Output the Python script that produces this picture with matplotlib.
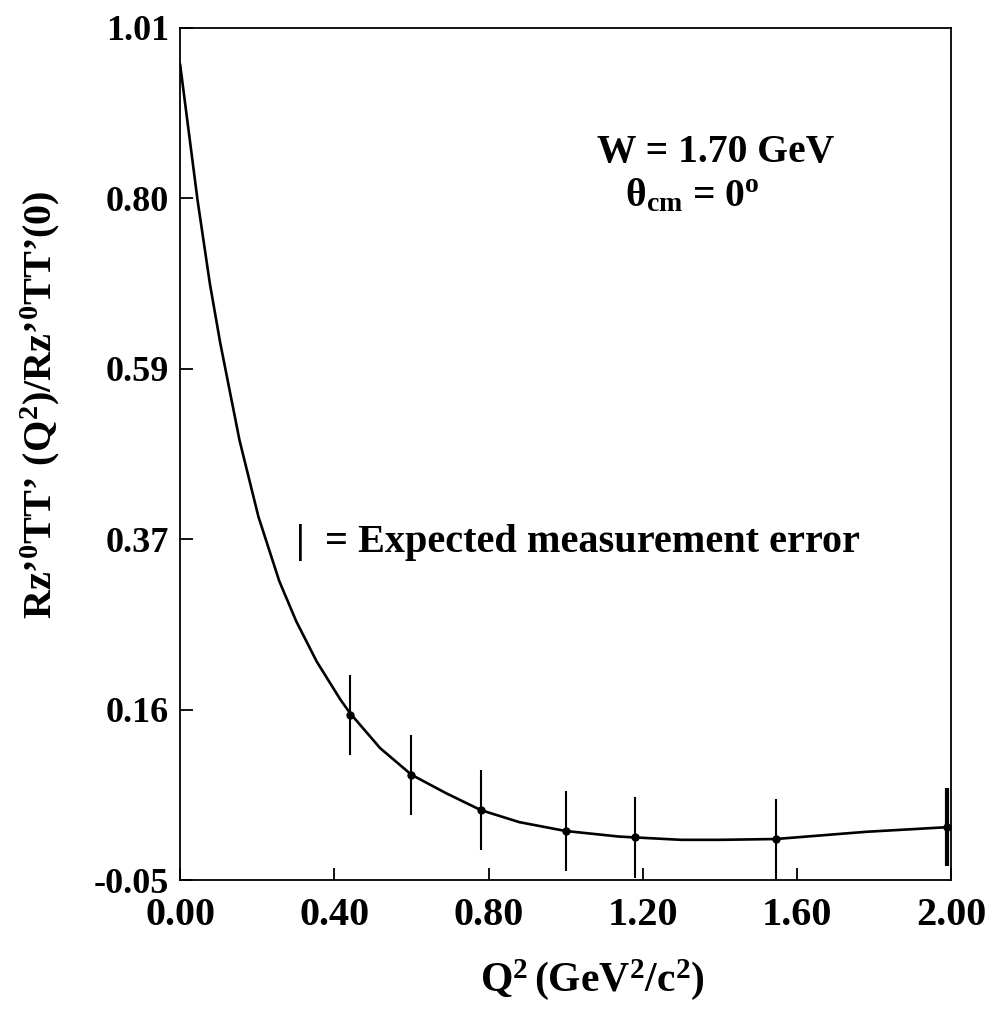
import numpy as np
import matplotlib
matplotlib.use("Agg")
from matplotlib import pyplot as plt

# curve
curve_q2 = [0.0, 0.045, 0.077, 0.104, 0.154, 0.203, 0.257, 0.301, 0.354, 0.415,
            0.44, 0.519, 0.60, 0.69, 0.78, 0.88, 1.00, 1.14, 1.18, 1.30, 1.40,
            1.545, 1.78, 2.0]
curve_r = [0.964, 0.796, 0.692, 0.618, 0.497, 0.402, 0.322, 0.272, 0.222, 0.175,
           0.158, 0.114, 0.081, 0.058, 0.037, 0.022, 0.011, 0.004, 0.003, 0.0,
           0.0, 0.001, 0.010, 0.016]

# expected measurement points
pts_q2 = [0.44, 0.60, 0.78, 1.00, 1.18, 1.545, 1.99]
pts_r = [0.155, 0.081, 0.037, 0.011, 0.003, 0.001, 0.016]
pts_err = [0.05, 0.05, 0.05, 0.05, 0.05, 0.05, 0.048]

yticks = [-0.05, 0.162, 0.374, 0.586, 0.798, 1.01]
ytick_labels = ["-0.05", "0.16", "0.37", "0.59", "0.80", "1.01"]
xticks = [0.0, 0.4, 0.8, 1.2, 1.6, 2.0]
xtick_labels = ["0.00", "0.40", "0.80", "1.20", "1.60", "2.00"]

plt.rcParams["font.family"] = ["Liberation Serif", "DejaVu Serif"]
plt.rcParams["font.weight"] = "bold"
plt.rcParams["mathtext.fontset"] = "custom"
plt.rcParams["mathtext.rm"] = "Liberation Serif:bold"
plt.rcParams["mathtext.it"] = "Liberation Serif:bold"
plt.rcParams["mathtext.bf"] = "Liberation Serif:bold"


def main():
    fig = plt.figure(figsize=(9.9, 10.24), dpi=100)
    ax = fig.add_axes([0.182, 0.1406, 0.7786, 0.8321])

    ax.plot(curve_q2, curve_r, color="black", lw=1.9, solid_joinstyle="round")
    ax.errorbar(pts_q2[:-1], pts_r[:-1], yerr=pts_err[:-1], fmt="o",
                color="black", ms=5, elinewidth=1.5, capsize=0)
    ax.errorbar(pts_q2[-1:], pts_r[-1:], yerr=pts_err[-1:], fmt="o",
                color="black", ms=5, elinewidth=3, capsize=0, clip_on=False)

    ax.set_xlim(0, 2.0)
    ax.set_ylim(-0.05, 1.01)
    ax.set_xticks(xticks)
    ax.set_xticklabels(xtick_labels)
    ax.set_yticks(yticks)
    ax.set_yticklabels(ytick_labels)
    ax.tick_params(direction="in", length=9, width=1.3, pad=8)
    ax.tick_params(axis="x", labelsize=29, pad=12)
    ax.tick_params(axis="y", labelsize=26)
    for lab in ax.get_xticklabels() + ax.get_yticklabels():
        lab.set_fontweight("bold")
    for s in ax.spines.values():
        s.set_linewidth(1.3)

    ax.text(1.39, 0.855, "W = 1.70 GeV", fontsize=28.5, fontweight="bold",
            ha="center", va="center")
    ax.text(1.33, 0.80, r"θ$_{\mathrm{cm}}$ = 0$^{\mathrm{o}}$", fontsize=28.5,
            fontweight="bold", ha="center", va="center")
    ax.text(0.30, 0.37, "|  = Expected measurement error", fontsize=29,
            fontweight="bold", ha="left", va="center")

    fig.text(40 / 990, 1 - 405 / 1024,
             r"$\mathrm{Rz’^{0}TT’\ (Q^{2})/Rz’^{0}TT’(0)}$",
             fontsize=29, rotation=90, ha="center", va="center")
    fig.text(592 / 990, 1 - 980 / 1024,
             r"$\mathrm{Q^{2}\,(GeV^{2}/c^{2})}$",
             fontsize=30, ha="center", va="center")

    fig.savefig("out.png", dpi=100)


if __name__ == "__main__":
    main()
